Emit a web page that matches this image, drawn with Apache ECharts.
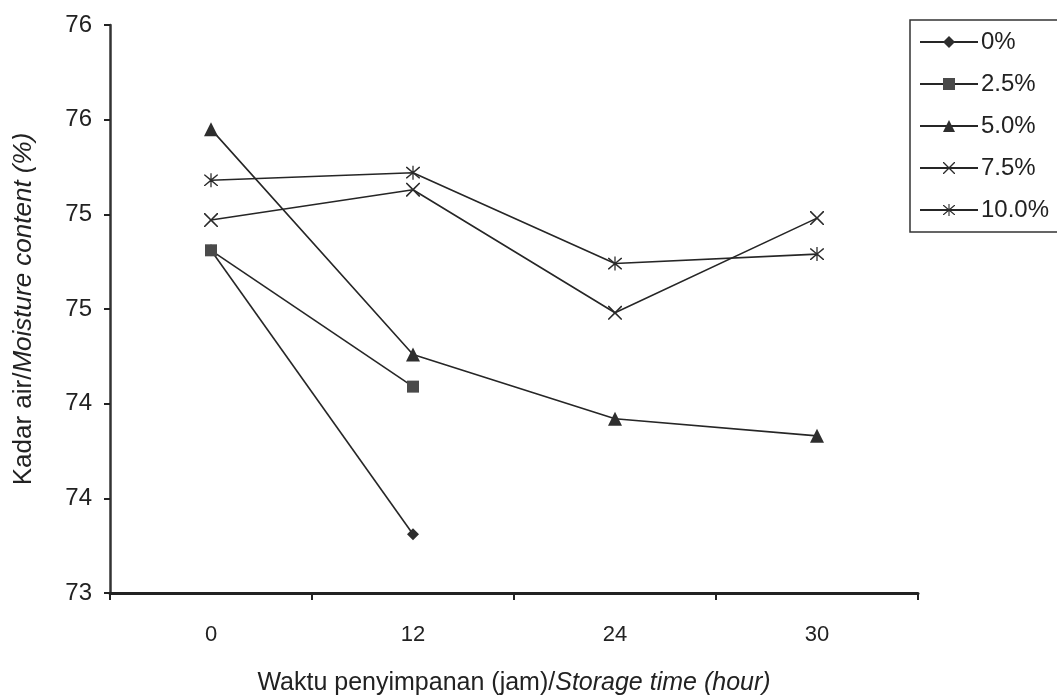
<!DOCTYPE html>
<html>
<head>
<meta charset="utf-8">
<script src="https://cdn.jsdelivr.net/npm/echarts@6/dist/echarts.min.js"></script>
<style>
html,body{margin:0;padding:0;background:#fff;}
#chart{width:1057px;height:699px;}
</style>
</head>
<body>
<div id="chart"></div>
<script>
const categories = ['0', '12', '24', '30'];
const yTickLabels = ['73', '74', '74', '75', '75', '76', '76'];
const seriesNames = ['0%', '2.5%', '5.0%', '7.5%', '10.0%'];
const s0 = [74.81, 73.31, null, null];
const s25 = [74.81, 74.09, null, null];
const s50 = [75.45, 74.26, 73.92, 73.83];
const s75 = [74.97, 75.13, 74.48, 74.98];
const s100 = [75.18, 75.22, 74.74, 74.79];

const xPath = 'path://M0,0 L1.6,0 L10,8.4 L18.4,0 L20,0 L20,1.6 L11.6,10 L20,18.4 L20,20 L18.4,20 L10,11.6 L1.6,20 L0,20 L0,18.4 L8.4,10 L0,1.6 Z';
const starPath = 'path://M0,0 L1.6,0 L10,8.4 L18.4,0 L20,0 L20,1.6 L11.6,10 L20,18.4 L20,20 L18.4,20 L10,11.6 L1.6,20 L0,20 L0,18.4 L8.4,10 L0,1.6 Z M9.1,-2 L10.9,-2 L10.9,22 L9.1,22 Z';

const chart = echarts.init(document.getElementById('chart'));
const font = 'Liberation Sans, Arial, sans-serif';
const lineColor = '#262626';

function mk(name, data, symbol, size, color) {
  return {
    name: name, type: 'line', data: data, symbol: symbol, symbolSize: size,
    showSymbol: true, connectNulls: false,
    lineStyle: { color: lineColor, width: 1.6 },
    itemStyle: { color: color, borderColor: color, borderWidth: 0 },
    emphasis: { disabled: true }
  };
}

chart.setOption({
  animation: false,
  backgroundColor: '#fff',
  grid: { left: 110, right: 139, top: 25, bottom: 106, containLabel: false, outerBoundsMode: 'none' },
  legend: {
    orient: 'vertical',
    left: 910, top: 20,
    itemWidth: 58, itemHeight: 15, itemGap: 18,
    padding: [10, 40, 10, 9],
    borderColor: '#333', borderWidth: 1.5,
    textStyle: { fontFamily: font, fontSize: 24, color: '#222', padding: [0, 0, 0, -2] },
    data: seriesNames
  },
  xAxis: {
    type: 'category', data: categories, boundaryGap: true,
    axisLine: { lineStyle: { color: '#222', width: 3 } },
    axisTick: { show: true, inside: false, length: 7, lineStyle: { color: '#222', width: 2 } },
    axisLabel: { fontFamily: font, fontSize: 22, color: '#222', margin: 31 },
    name: '{a|Waktu penyimpanan (jam)/}{b|Storage time (hour)}',
    nameLocation: 'middle', nameGap: 78,
    nameTextStyle: {
      rich: {
        a: { fontFamily: font, fontSize: 25, color: '#222' },
        b: { fontFamily: font, fontSize: 25, color: '#222', fontStyle: 'italic' }
      }
    }
  },
  yAxis: {
    type: 'value', min: 73, max: 76, interval: 0.5,
    splitLine: { show: false },
    axisLine: { show: true, lineStyle: { color: '#333', width: 2.5 } },
    axisTick: { show: true, inside: false, length: 6, lineStyle: { color: '#222', width: 2 } },
    axisLabel: {
      fontFamily: font, fontSize: 24, color: '#222', margin: 18,
      formatter: function (v) { return yTickLabels[Math.round((v - 73) / 0.5)]; }
    },
    name: '{a|Kadar air/}{b|Moisture content (%)}',
    nameLocation: 'middle', nameGap: 73,
    nameTextStyle: {
      rich: {
        a: { fontFamily: font, fontSize: 26, color: '#222' },
        b: { fontFamily: font, fontSize: 26, color: '#222', fontStyle: 'italic' }
      }
    }
  },
  series: [
    mk(seriesNames[0], s0, 'diamond', 12, '#2e2e2e'),
    mk(seriesNames[1], s25, 'rect', 12, '#4a4a4a'),
    mk(seriesNames[2], s50, 'triangle', 14, '#2e2e2e'),
    mk(seriesNames[3], s75, xPath, 14, '#2a2a2a'),
    mk(seriesNames[4], s100, starPath, 14, '#2a2a2a')
  ]
});
</script>
</body>
</html>
